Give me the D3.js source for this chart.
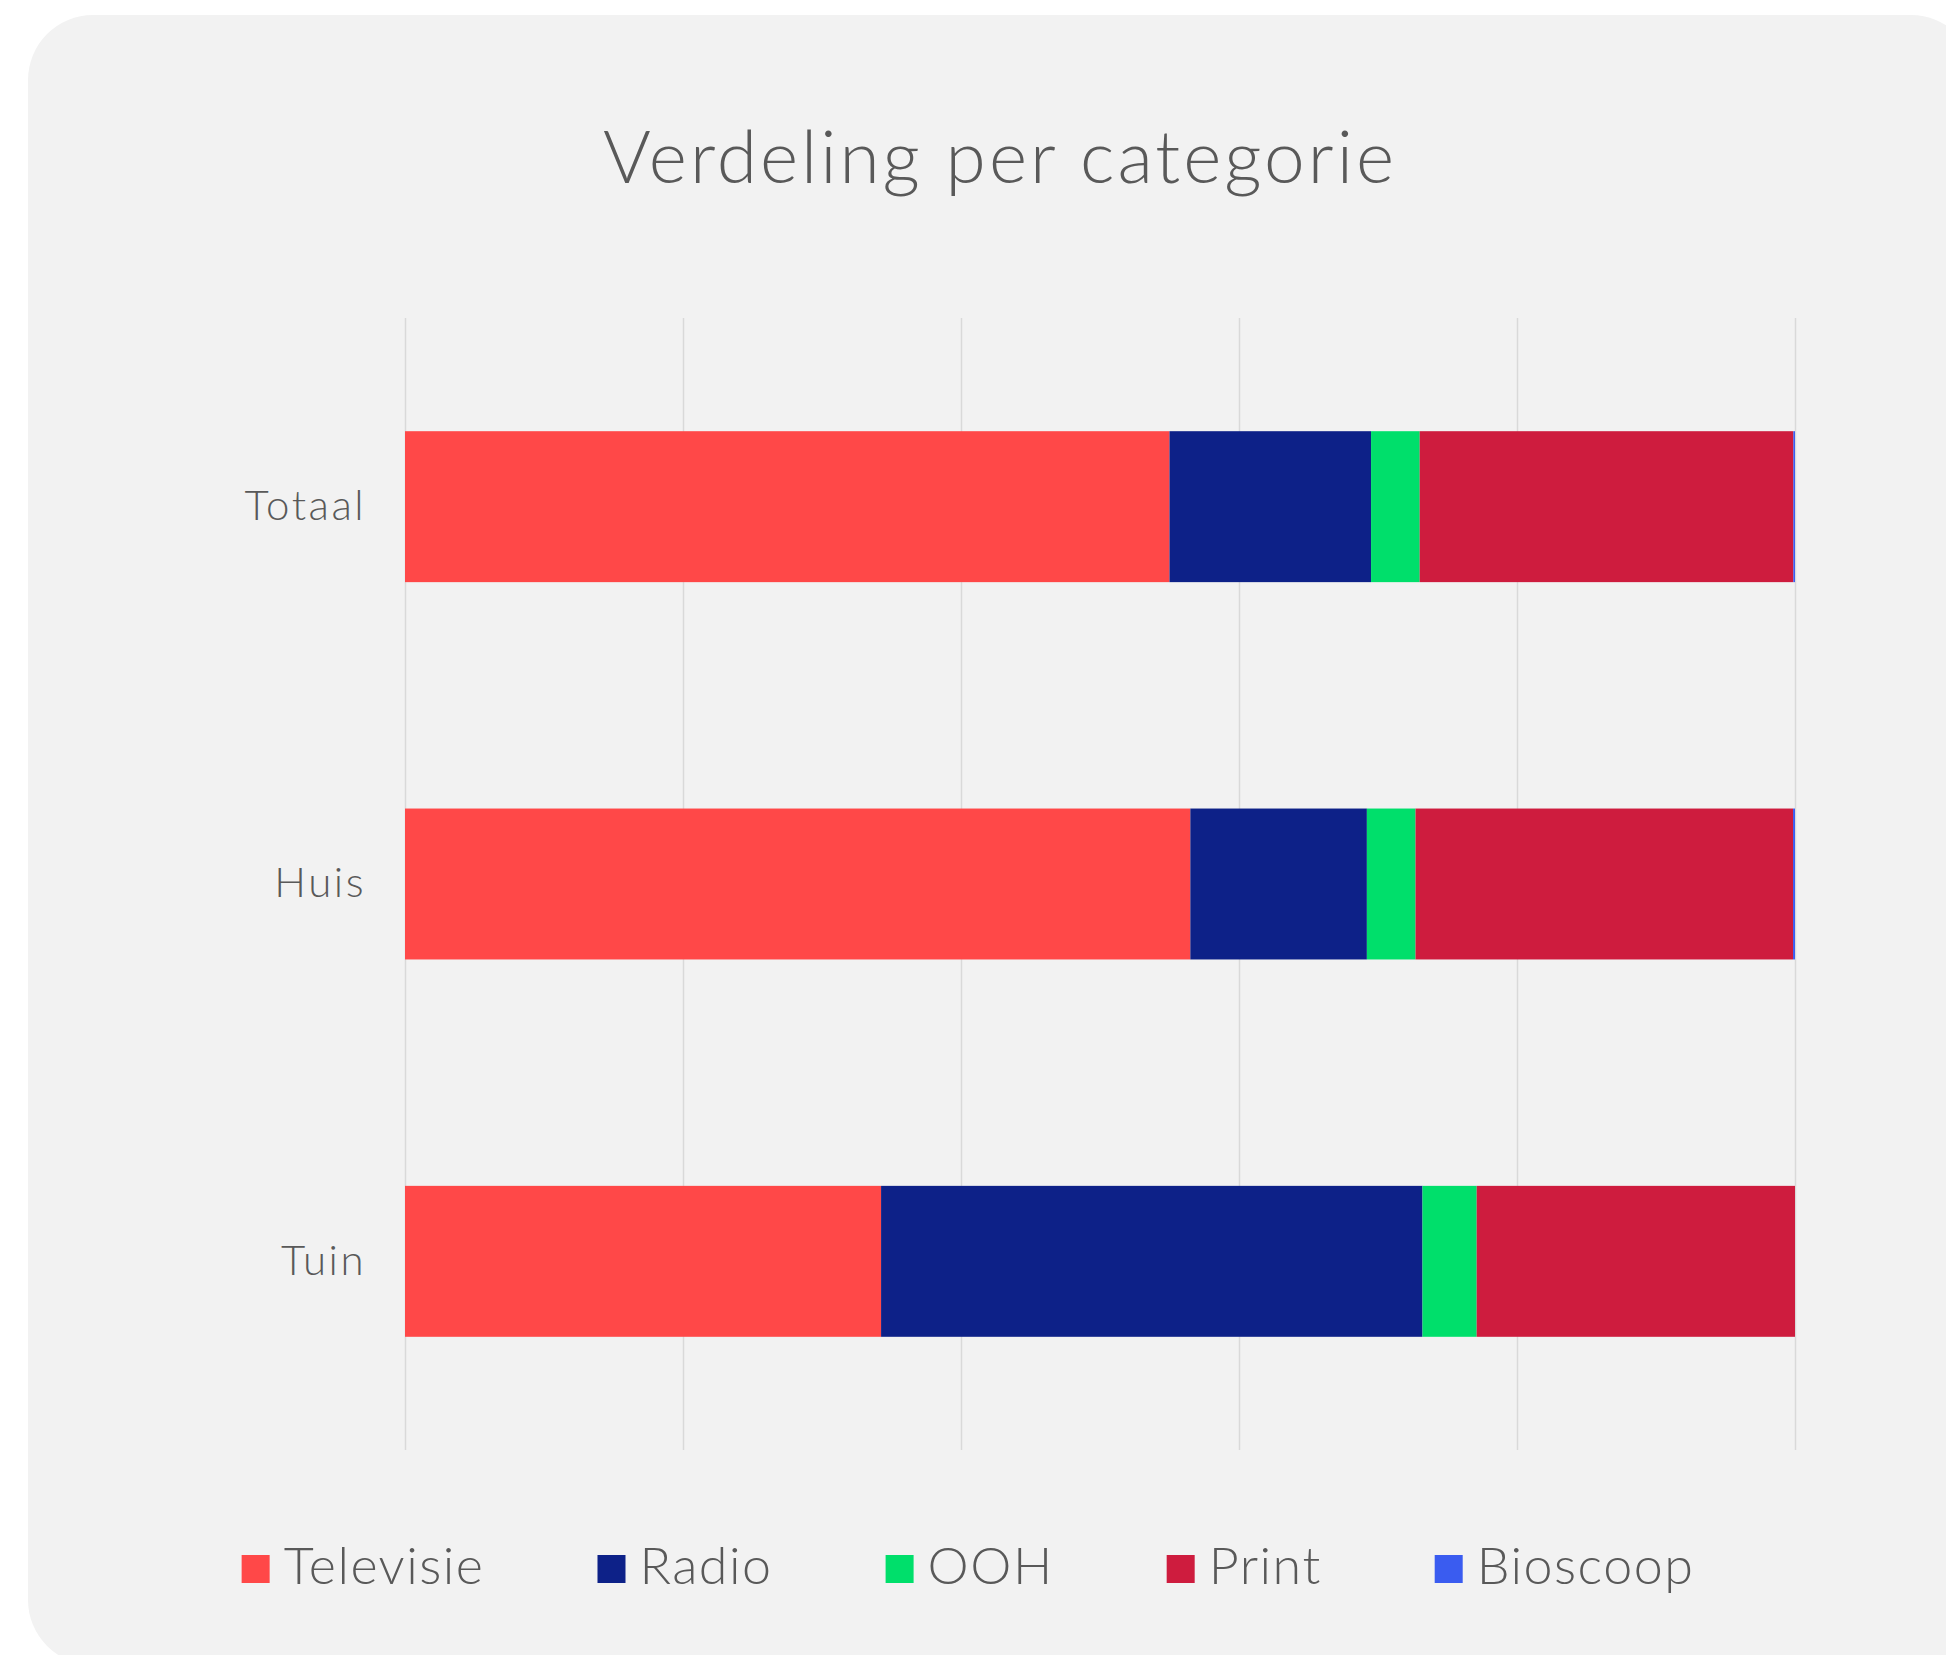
<!DOCTYPE html>
<html>
<head>
<meta charset="utf-8">
<script src="https://cdn.jsdelivr.net/npm/d3@7"></script>
<style>
  body { margin: 0; background: #ffffff; }
  svg { display: block; font-family: Lato, "Open Sans", sans-serif; font-weight: 300; }
</style>
</head>
<body>
<svg width="1946" height="1655"></svg>
<script>
// data (percent of each bar)
const categories = ["Totaal", "Huis", "Tuin"];
const seriesNames = ["Televisie", "Radio", "OOH", "Print", "Bioscoop"];
const televisie = [55.0, 56.5, 34.25];
const radio = [14.5, 12.7, 38.95];
const ooh = [3.5, 3.5, 3.9];
const print = [26.88, 27.16, 22.9];
const bioscoop = [0.12, 0.14, 0.0];
const gridTicks = [0, 20, 40, 60, 80, 100];

const colors = ["#ff4848", "#0d2188", "#00df6b", "#ce1c3e", "#3a5cf0"];
const textColor = "#595959";

const rows = categories.map((c, i) => ({
  cat: c,
  Televisie: televisie[i],
  Radio: radio[i],
  OOH: ooh[i],
  Print: print[i],
  Bioscoop: bioscoop[i]
}));

const svg = d3.select("svg");

// panel background
svg.append("rect")
  .attr("x", 28).attr("y", 15)
  .attr("width", 1948).attr("height", 1650)
  .attr("rx", 65)
  .attr("fill", "#f2f2f2");

// title
svg.append("text")
  .attr("x", 1000).attr("y", 183)
  .attr("text-anchor", "middle")
  .attr("font-size", 73)
  .attr("letter-spacing", 3)
  .attr("fill", textColor)
  .text("Verdeling per categorie");

const plot = { left: 405, right: 1795, top: 318, bottom: 1450 };

const x = d3.scaleLinear().domain([0, 100]).range([plot.left, plot.right]);
const y = d3.scaleBand()
  .domain(categories)
  .range([plot.top, plot.bottom])
  .paddingInner(0.6)
  .paddingOuter(0.3);

// vertical gridlines
const grid = svg.append("g")
  .attr("transform", `translate(0,${plot.bottom})`)
  .call(d3.axisBottom(x).tickValues(gridTicks)
    .tickSize(-(plot.bottom - plot.top)).tickFormat(""));
grid.select(".domain").remove();
grid.selectAll(".tick line").attr("stroke", "#d9d9d9").attr("stroke-width", 1.5);

// stacked bars
const stacked = d3.stack().keys(seriesNames)(rows);
const color = d3.scaleOrdinal().domain(seriesNames).range(colors);

svg.append("g")
  .selectAll("g")
  .data(stacked)
  .join("g")
  .attr("fill", (d) => color(d.key))
  .selectAll("rect")
  .data((d) => d)
  .join("rect")
  .attr("x", (d) => x(d[0]))
  .attr("y", (d) => y(d.data.cat))
  .attr("width", (d) => x(d[1]) - x(d[0]))
  .attr("height", y.bandwidth());

// category labels
const yAxis = svg.append("g")
  .attr("transform", `translate(${plot.left},0)`)
  .call(d3.axisLeft(y).tickSize(0).tickPadding(39));
yAxis.select(".domain").remove();
yAxis.selectAll("text")
  .attr("font-size", 42)
  .attr("font-family", "Lato, sans-serif")
  .attr("font-weight", 300)
  .attr("letter-spacing", 2.5)
  .attr("fill", textColor);

// legend
const legend = svg.append("g");
const items = legend.selectAll("g")
  .data(seriesNames)
  .join("g");
items.append("rect")
  .attr("width", 28).attr("height", 28)
  .attr("y", -29)
  .attr("fill", (d) => color(d));
items.append("text")
  .attr("x", 42)
  .attr("font-size", 52)
  .attr("letter-spacing", 1.5)
  .attr("fill", textColor)
  .text((d) => d);

let pos = 0;
const gap = 113;
items.each(function () {
  const w = 42 + d3.select(this).select("text").node().getComputedTextLength();
  d3.select(this).attr("transform", `translate(${pos},0)`);
  pos += w + gap;
});
const total = pos - gap;
legend.attr("transform", `translate(${968 - total / 2},1584)`);
</script>
</body>
</html>
